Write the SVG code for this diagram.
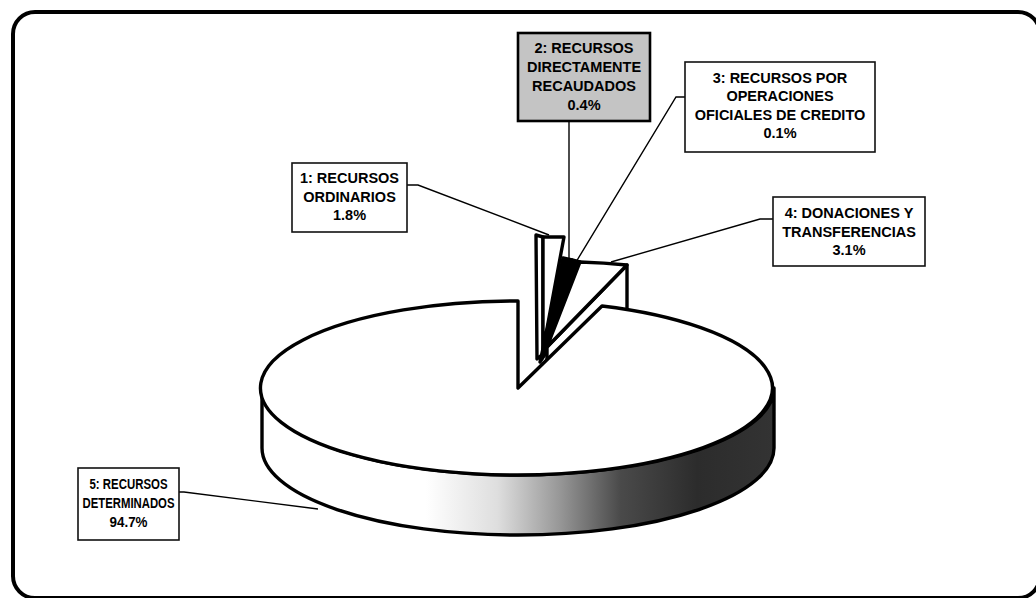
<svg xmlns="http://www.w3.org/2000/svg" width="1036" height="598" viewBox="0 0 1036 598">
<style>
.lbl{font-family:"Liberation Sans",Arial,sans-serif;font-weight:bold;font-size:14.5px;fill:#000;text-anchor:middle}
.box{fill:#fff;stroke:#111;stroke-width:1.6}
.pie{stroke:#000;stroke-width:3.4;stroke-linejoin:round}
.lead{fill:none;stroke:#000;stroke-width:1.4}
</style>
<defs>
<linearGradient id="side" gradientUnits="userSpaceOnUse" x1="262" y1="0" x2="774" y2="0">
<stop offset="0" stop-color="#fff"/>
<stop offset="0.32" stop-color="#fff"/>
<stop offset="0.46" stop-color="#dedede"/>
<stop offset="0.58" stop-color="#989898"/>
<stop offset="0.7" stop-color="#4a4a4a"/>
<stop offset="0.85" stop-color="#2c2c2c"/>
<stop offset="1" stop-color="#333"/>
</linearGradient>
</defs>
<rect x="13" y="12" width="1027" height="586" rx="22" fill="#fff" stroke="#000" stroke-width="4"/>

<g id="slice1">
<polygon class="pie" fill="#fff" points="536,235 543,237 543,354 537,359"/>
<polygon class="pie" fill="#fff" points="543,237 564,237 543,350"/>
</g>
<g id="slice2">
<polygon class="pie" fill="#000" points="563,258 572,260 549,348 540,362"/>
</g>
<g id="slice3">
<polygon class="pie" fill="#000" points="572,260 580,262 555,341 549,348"/>
</g>
<g id="slice4">
<polygon class="pie" fill="#fff" points="627,265 627,325 547,407 547,347"/>
<path class="pie" fill="#fff" d="M547,347 L580,262 A256,87 0 0 1 627,265 Z"/>
</g>
<g id="slice5">
<path class="pie" fill="url(#side)" d="M262,388 A256,87 0 0 0 774,388 L774,448 A256,87 0 0 1 262,448 Z"/>
<path class="pie" fill="#fff" d="M518,388 L518,301 A256,87 0 1 0 602,306 Z"/>
</g>

<g id="connectors">
<path class="lead" d="M407,185 H418 L549,235"/>
<path class="lead" d="M569,121 V259"/>
<path class="lead" d="M685,97 H676 L576,262"/>
<path class="lead" d="M773,219 H760 L611,262"/>
<path class="lead" d="M179,492 H184 L318,509"/>
</g>

<g id="label1">
<rect class="box" x="292" y="163" width="115" height="69"/>
<text class="lbl" x="349.5" y="183">1: RECURSOS</text>
<text class="lbl" x="349.5" y="202">ORDINARIOS</text>
<text class="lbl" x="349.5" y="220">1.8%</text>
</g>
<g id="label2">
<rect x="518" y="33" width="132" height="88" fill="#c4c4c4" stroke="#000" stroke-width="2.6"/>
<text class="lbl" x="584" y="53">2: RECURSOS</text>
<text class="lbl" x="584" y="72">DIRECTAMENTE</text>
<text class="lbl" x="584" y="91">RECAUDADOS</text>
<text class="lbl" x="584" y="110">0.4%</text>
</g>
<g id="label3">
<rect class="box" x="685" y="62" width="190" height="90"/>
<text class="lbl" x="780" y="83">3: RECURSOS POR</text>
<text class="lbl" x="780" y="101">OPERACIONES</text>
<text class="lbl" x="780" y="120">OFICIALES DE CREDITO</text>
<text class="lbl" x="780" y="138">0.1%</text>
</g>
<g id="label4">
<rect class="box" x="773" y="197" width="152" height="69"/>
<text class="lbl" x="849" y="218">4: DONACIONES Y</text>
<text class="lbl" x="849" y="237">TRANSFERENCIAS</text>
<text class="lbl" x="849" y="255">3.1%</text>
</g>
<g id="label5">
<rect class="box" x="78" y="468" width="101" height="72"/>
<text class="lbl" x="128.5" y="489" textLength="78" lengthAdjust="spacingAndGlyphs">5: RECURSOS</text>
<text class="lbl" x="128.5" y="508" textLength="92" lengthAdjust="spacingAndGlyphs">DETERMINADOS</text>
<text class="lbl" x="128.5" y="527" textLength="38" lengthAdjust="spacingAndGlyphs">94.7%</text>
</g>
</svg>
